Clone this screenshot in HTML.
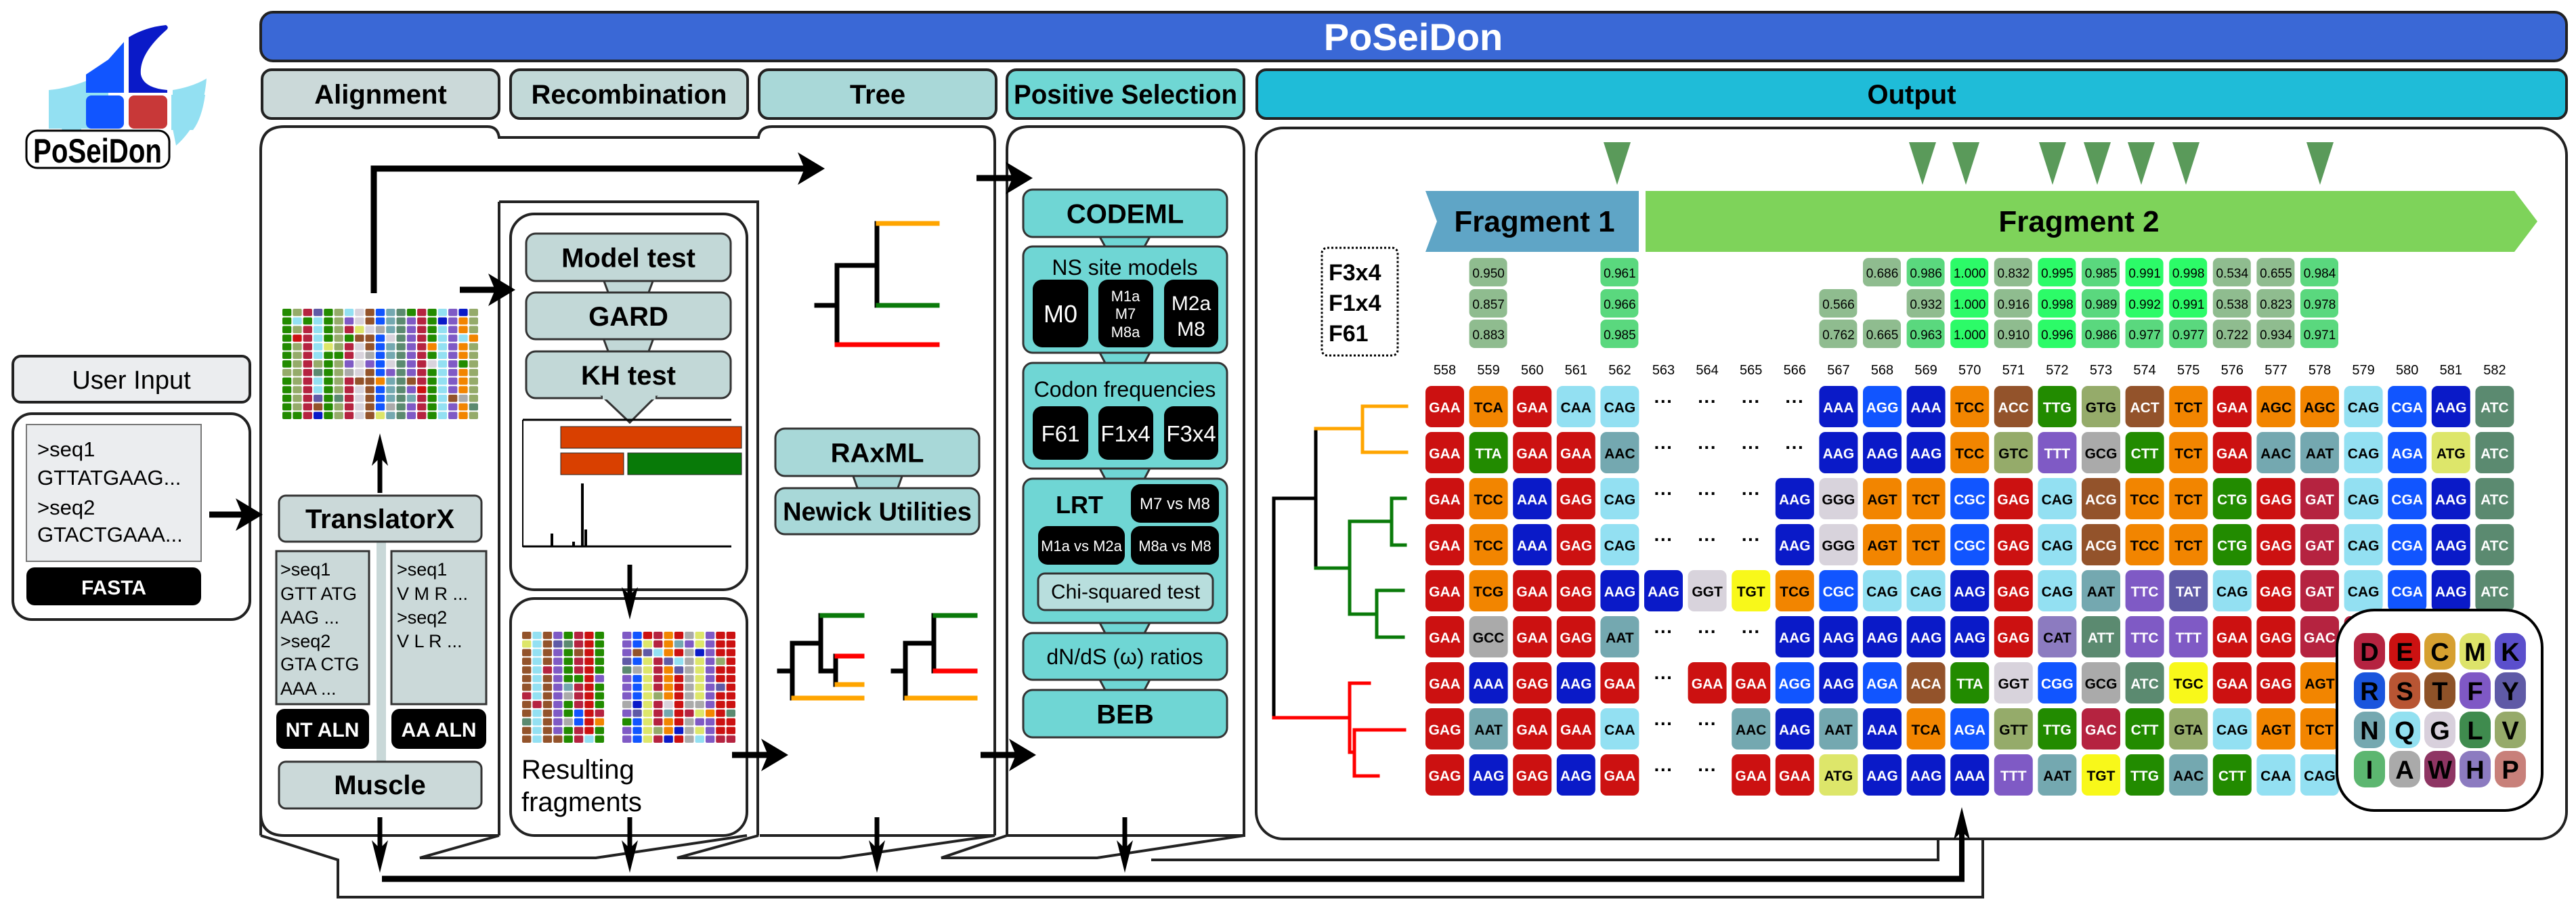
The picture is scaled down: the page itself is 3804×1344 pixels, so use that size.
<!DOCTYPE html>
<html><head><meta charset="utf-8">
<style>
html,body{margin:0;padding:0;background:#fff;}
svg{display:block;font-family:"Liberation Sans",Arial,sans-serif;}
</style></head>
<body>
<svg id="s" xmlns="http://www.w3.org/2000/svg" width="3804" height="1344" viewBox="0 0 3804 1344">
<rect width="3804" height="1344" fill="#fff"/>
<!-- logo -->
<path d="M72 133 Q110 130 160 105 L160 190 L72 190 Z" fill="#93e0f2"/>
<path d="M305 116 Q300 180 260 215 L255 190 L255 133 Q285 128 305 116Z" fill="#93e0f2"/>
<path d="M75 140 L120 140 L120 192 L92 192 Q80 170 75 140Z" fill="#93e0f2"/>
<path d="M253 140 L303 140 Q298 175 285 192 L253 192Z" fill="#93e0f2"/>
<path d="M160 88 L183 62 L183 137 L127 137 L127 110Z" fill="#1155ff"/>
<rect x="127" y="141" width="56" height="49" rx="8" fill="#1155ff"/>
<rect x="190" y="141" width="57" height="49" rx="8" fill="#c83838"/>
<path d="M190 55 Q215 40 245 37 Q250 40 246 44 Q205 80 208 110 Q212 130 247 133 L247 137 L190 137Z" fill="#0a1ac8"/>
<rect x="39" y="193" width="211" height="55" rx="16" fill="#fff" stroke="#000" stroke-width="3"/>
<text x="144" y="240" font-size="50" font-weight="bold" text-anchor="middle" textLength="190" lengthAdjust="spacingAndGlyphs">PoSeiDon</text>

<!-- title -->
<rect x="385" y="18" width="3405" height="72" rx="18" fill="#3a68d6" stroke="#222" stroke-width="4"/>
<text x="2087" y="74" font-size="56" font-weight="bold" fill="#fff" text-anchor="middle">PoSeiDon</text>

<!-- tabs -->
<g stroke="#222" stroke-width="4" font-size="40" font-weight="bold">
<rect x="387" y="103" width="350" height="72" rx="14" fill="#cbd9d9"/>
<rect x="754" y="103" width="350" height="72" rx="14" fill="#c2d9d8"/>
<rect x="1121" y="103" width="350" height="72" rx="14" fill="#a9d8d8"/>
<rect x="1487" y="103" width="350" height="72" rx="14" fill="#6fd7d4"/>
<rect x="1856" y="103" width="1934" height="72" rx="14" fill="#1fbcd8"/>
</g>
<g font-size="40" font-weight="bold" text-anchor="middle">
<text x="562" y="153">Alignment</text>
<text x="929" y="153">Recombination</text>
<text x="1296" y="153">Tree</text>
<text x="1662" y="153" textLength="330" lengthAdjust="spacingAndGlyphs">Positive Selection</text>
<text x="2823" y="153">Output</text>
</g>

<!-- panels -->
<g fill="none" stroke="#222" stroke-width="4">
<path d="M385 1234 L385 222 Q385 187 420 187 L720 187 Q735 187 737 203 L1120 203 Q1122 187 1140 187 L1450 187 Q1469 187 1469 210 L1469 1234"/>
<path d="M385 1200 Q385 1234 420 1234 L720 1234 L735 1234"/>
<path d="M737 298 L1119 298 L1119 1234"/>
<path d="M737 298 L737 1234"/>
<rect x="754" y="316" width="349" height="555" rx="35"/>
<rect x="754" y="884" width="349" height="350" rx="35"/>
<path d="M1122 1234 L1469 1234"/>
<path d="M1487 1234 L1487 222 Q1487 187 1520 187 L1805 187 Q1837 187 1837 222 L1837 1234 L1487 1234"/>
<rect x="1855" y="189" width="1935" height="1050" rx="40"/>
<path d="M385 1234 L499 1270 L499 1325 L2928 1325 L2928 1239"/>
<path d="M737 1234 L620 1267 L880 1267 L1103 1234"/>
<path d="M1120 1234 L1000 1267 L1240 1267 L1469 1234"/>
<path d="M1487 1234 L1390 1267 L1620 1267 L1837 1234"/>
<path d="M1700 1270 L2862 1270 L2862 1239"/>
</g>

<!-- user input -->
<rect x="19" y="526" width="350" height="68" rx="12" fill="#ebedef" stroke="#222" stroke-width="4"/>
<text x="194" y="574" font-size="38" text-anchor="middle">User Input</text>
<rect x="19" y="611" width="350" height="304" rx="28" fill="#fff" stroke="#222" stroke-width="4"/>
<rect x="39" y="627" width="258" height="202" fill="#ebedef" stroke="#777" stroke-width="2"/>
<g font-size="31">
<text x="55" y="674">&gt;seq1</text>
<text x="55" y="716">GTTATGAAG...</text>
<text x="55" y="760">&gt;seq2</text>
<text x="55" y="800">GTACTGAAA...</text>
</g>
<rect x="39" y="838" width="258" height="56" rx="12" fill="#000"/>
<text x="168" y="878" font-size="30" font-weight="bold" fill="#fff" text-anchor="middle">FASTA</text>

<g id="arrows"></g>

<!-- alignment column -->
<g id="aln1"></g>
<rect x="556" y="800" width="14" height="326" fill="#c9d8d8"/>
<rect x="412" y="732" width="299" height="68" rx="10" fill="#cbd9d9" stroke="#333" stroke-width="3"/>
<text x="561" y="780" font-size="40" font-weight="bold" text-anchor="middle">TranslatorX</text>
<rect x="408" y="814" width="137" height="226" fill="#cbd9d9" stroke="#333" stroke-width="3"/>
<rect x="578" y="814" width="140" height="226" fill="#cbd9d9" stroke="#333" stroke-width="3"/>
<g font-size="27">
<text x="414" y="850">&gt;seq1</text><text x="414" y="886">GTT ATG</text><text x="414" y="921">AAG ...</text>
<text x="414" y="956">&gt;seq2</text><text x="414" y="990">GTA CTG</text><text x="414" y="1026">AAA ...</text>
<text x="586" y="850">&gt;seq1</text><text x="586" y="886">V M R ...</text><text x="586" y="921">&gt;seq2</text><text x="586" y="956">V L R ...</text>
</g>
<rect x="408" y="1047" width="137" height="59" rx="12" fill="#000"/>
<rect x="578" y="1047" width="140" height="59" rx="12" fill="#000"/>
<text x="476" y="1088" font-size="30" font-weight="bold" fill="#fff" text-anchor="middle">NT ALN</text>
<text x="648" y="1088" font-size="30" font-weight="bold" fill="#fff" text-anchor="middle">AA ALN</text>
<rect x="412" y="1125" width="299" height="69" rx="10" fill="#cbd9d9" stroke="#333" stroke-width="3"/>
<text x="561" y="1173" font-size="40" font-weight="bold" text-anchor="middle">Muscle</text>

<!-- recombination -->
<g id="recomb"></g>
<g id="frag1"></g><g id="frag2"></g>
<text x="770" y="1150" font-size="40">Resulting</text>
<text x="770" y="1198" font-size="40">fragments</text>

<!-- tree column -->
<g id="trees" fill="none" stroke-width="8"></g>
<g id="possel"></g>

<!-- output -->
<g id="out"></g>
</svg>
<script>
var NS="http://www.w3.org/2000/svg";
function el(p,t,a,txt){var e=document.createElementNS(NS,t);for(var k in a)e.setAttribute(k,a[k]);if(txt!=null)e.textContent=txt;(typeof p=="string"?document.getElementById(p):p).appendChild(e);return e;}
var S=document.getElementById('s');
// arrows
var A='arrows';
function harrow(x1,x2,y,w){el(A,'line',{x1:x1,y1:y,x2:x2-30,y2:y,stroke:'#000','stroke-width':w||9});el(A,'polygon',{points:(x2)+','+y+' '+(x2-40)+','+(y-24)+' '+(x2-30)+','+y+' '+(x2-40)+','+(y+24),fill:'#000'});}
function varrow(x,y1,y2,w){var d=y2>y1?1:-1;el(A,'line',{x1:x,y1:y1,x2:x,y2:y2-30*d,stroke:'#000','stroke-width':w||7});el(A,'polygon',{points:x+','+y2+' '+(x-12)+','+(y2-48*d)+' '+x+','+(y2-36*d)+' '+(x+12)+','+(y2-48*d),fill:'#000'});}
harrow(309,388,760);
varrow(561,728,640);
el(A,'polyline',{points:'552,433 552,249 1190,249',fill:'none',stroke:'#000','stroke-width':9});
harrow(1180,1218,249);
harrow(679,761,428);
harrow(1442,1525,263);
harrow(1081,1164,1115);
harrow(1448,1530,1115);
varrow(930,834,915);
[561,930,1295,1661].forEach(function(x){varrow(x,1207,1289);});
el(A,'line',{x1:564,y1:1298,x2:2901,y2:1298,stroke:'#000','stroke-width':9});
varrow(2897,1302,1192,8);

// mini alignments
var pal=['#cc1111','#b52340','#f28500','#93e0f2','#74a8b0','#0a1ac8','#1155ff','#228b00','#95ab6a','#93532b','#7f5ac5','#aaaaaa','#5b8a70','#dde66a','#d8d3dc','#5f5aa6'];
var seed=7;function rnd(){seed=(seed*9301+49297)%233280;return seed/233280;}
function grid(g,x,y,w,h,nc,nr){var cw=w/nc,ch=h/nr;var cols=[];for(var c=0;c<nc;c++)cols.push(pal[Math.floor(rnd()*pal.length)]);
for(var r=0;r<nr;r++)for(var c=0;c<nc;c++){var col=rnd()<0.75?cols[c]:pal[Math.floor(rnd()*pal.length)];el(g,'rect',{x:x+c*cw+1,y:y+r*ch+1,width:cw-2,height:ch-2,rx:2,fill:col});}}
grid('aln1',416,455,291,165,19,13);
grid('frag1',770,932,123,166,8,13);
grid('frag2',918,932,169,166,11,13);

// recombination boxes
var R='recomb';
function neck(g,x,y1,y2,fill){el(g,'polygon',{points:(x-38)+','+y1+' '+(x+38)+','+y1+' '+(x+28)+','+y2+' '+(x-28)+','+y2,fill:fill,stroke:'#333','stroke-width':3});}
function box(g,x,y,w,h,fill,txt,fs,ty){el(g,'rect',{x:x,y:y,width:w,height:h,rx:14,fill:fill,stroke:'#333','stroke-width':3});if(txt)el(g,'text',{x:x+w/2,y:ty||(y+h/2+fs*0.36),'font-size':fs,'font-weight':'bold','text-anchor':'middle'},txt);}
neck(R,928,410,437,'#c2d8d7');neck(R,928,497,524,'#c2d8d7');
box(R,777,345,302,70,'#c2d8d7','Model test',40);
box(R,777,432,302,69,'#c2d8d7','GARD',40);
box(R,777,519,302,69,'#c2d8d7','KH test',40);
el(R,'polygon',{points:'890,586 968,586 930,624',fill:'#c2d8d7',stroke:'#333','stroke-width':3});
el(R,'rect',{x:890,y:584,width:78,height:6,fill:'#c2d8d7'});
// chart
el(R,'line',{x1:772,y1:620,x2:772,y2:808,stroke:'#000','stroke-width':2});
el(R,'line',{x1:772,y1:807,x2:1080,y2:807,stroke:'#000','stroke-width':3});
el(R,'line',{x1:772,y1:620,x2:1080,y2:620,stroke:'#000','stroke-width':3});
el(R,'rect',{x:828,y:630,width:267,height:32,fill:'#d94000',stroke:'#222','stroke-width':1});
el(R,'rect',{x:828,y:669,width:93,height:32,fill:'#d94000',stroke:'#222','stroke-width':1});
el(R,'rect',{x:927,y:669,width:168,height:32,fill:'#087a08',stroke:'#222','stroke-width':1});
el(R,'rect',{x:858,y:714,width:4,height:93,fill:'#000'});
el(R,'rect',{x:813,y:788,width:4,height:19,fill:'#000'});
el(R,'rect',{x:863,y:782,width:4,height:25,fill:'#000'});
el(R,'rect',{x:845,y:800,width:4,height:7,fill:'#000'});

// trees
var T='trees';
function ln(x1,y1,x2,y2,c){el(T,'line',{x1:x1,y1:y1,x2:x2,y2:y2,stroke:c,'stroke-width':7,'stroke-linecap':'square'});}
ln(1206,451,1236,451,'#000');ln(1236,392,1236,509,'#000');ln(1236,392,1295,392,'#000');ln(1295,330,1295,451,'#000');
ln(1297,330,1384,330,'#ffa500');ln(1297,451,1384,451,'#0a7a0a');ln(1236,509,1384,509,'#ff0000');
// small tree A
ln(1151,991,1170,991,'#000');ln(1170,950,1170,1031,'#000');ln(1170,950,1212,950,'#000');ln(1212,909,1212,991,'#000');ln(1212,991,1234,991,'#000');ln(1234,969,1234,1011,'#000');
ln(1214,909,1273,909,'#0a7a0a');ln(1236,969,1273,969,'#ff0000');ln(1236,1011,1273,1011,'#ffa500');ln(1172,1031,1273,1031,'#ffa500');
// small tree B
ln(1319,991,1337,991,'#000');ln(1337,950,1337,1031,'#000');ln(1337,950,1379,950,'#000');ln(1379,909,1379,991,'#000');
ln(1381,909,1440,909,'#0a7a0a');ln(1381,991,1440,991,'#ff0000');ln(1339,1031,1440,1031,'#ffa500');
var TB=document.getElementById('trees').parentNode;
neck('possel',1296,698,726,'#a8d8d8');
box('possel',1145,633,301,70,'#a8d8d8','RAxML',40);
box('possel',1145,721,301,68,'#a8d8d8','Newick Utilities',38);

// positive selection
var P='possel',PC='#6fd6d4';
[[350,364],[521,536],[692,707],[920,935],[1004,1019]].forEach(function(n){neck(P,1661,n[0]-2,n[1]+2,PC);});
box(P,1511,280,301,70,PC,'CODEML',40);
box(P,1511,364,301,157,PC);
el(P,'text',{x:1661,y:406,'font-size':32,'text-anchor':'middle'},'NS site models');
function bb(x,y,w,h){el(P,'rect',{x:x,y:y,width:w,height:h,rx:14,fill:'#000'});}
function wt(x,y,t,fs){el(P,'text',{x:x,y:y,'font-size':fs,fill:'#fff','text-anchor':'middle'},t);}
bb(1525,413,82,100);bb(1622,413,81,100);bb(1719,413,80,100);
wt(1566,476,'M0',36);wt(1662,445,'M1a',22);wt(1662,471,'M7',22);wt(1662,498,'M8a',22);wt(1759,458,'M2a',30);wt(1759,496,'M8',30);
box(P,1511,536,301,156,PC);
el(P,'text',{x:1661,y:586,'font-size':32,'text-anchor':'middle'},'Codon frequencies');
bb(1525,600,82,79);bb(1622,600,81,79);bb(1719,600,80,79);
wt(1566,652,'F61',33);wt(1662,652,'F1x4',33);wt(1759,652,'F3x4',33);
box(P,1511,707,301,213,PC);
el(P,'text',{x:1594,y:758,'font-size':36,'font-weight':'bold','text-anchor':'middle'},'LRT');
bb(1670,715,130,57);bb(1533,777,128,57);bb(1670,777,130,57);
wt(1735,752,'M7 vs M8',24);wt(1597,814,'M1a vs M2a',22);wt(1735,814,'M8a vs M8',22);
el(P,'rect',{x:1533,y:847,width:258,height:54,rx:10,fill:'#b8dedd',stroke:'#333','stroke-width':3});
el(P,'text',{x:1662,y:884,'font-size':30,'text-anchor':'middle'},'Chi-squared test');
box(P,1511,935,301,69,PC);
el(P,'text',{x:1661,y:981,'font-size':32,'text-anchor':'middle'},'dN/dS (\u03c9) ratios');
box(P,1511,1019,301,70,PC,'BEB',40);

// output
var O='out';
// triangles
[2388,2839,2903,3031,3097,3162,3228,3426].forEach(function(x){el(O,'polygon',{points:(x-20)+',210 '+(x+20)+',210 '+x+',273',fill:'#5a9a5a'});});
el(O,'polygon',{points:'2105,282 2420,282 2420,372 2105,372 2122,327',fill:'#5fa5c6'});
el(O,'polygon',{points:'2430,282 3713,282 3747,327 3713,372 2430,372',fill:'#7ed35a'});
el(O,'text',{x:2266,y:342,'font-size':44,'font-weight':'bold','text-anchor':'middle'},'Fragment 1');
el(O,'text',{x:3070,y:342,'font-size':44,'font-weight':'bold','text-anchor':'middle'},'Fragment 2');
el(O,'rect',{x:1952,y:366,width:112,height:159,rx:8,fill:'none',stroke:'#000','stroke-width':3,'stroke-dasharray':'3,3'});
[['F3x4',414],['F1x4',459],['F61',504]].forEach(function(t){el(O,'text',{x:1962,y:t[1],'font-size':34,'font-weight':'bold'},t[0]);});
var X0=2105,PW=64.6,CW=57;
function cx(i){return X0+PW*i;}
function sc(c,row,v){var f=parseFloat(v);var col=f>=0.99?'#2cfb68':(f>0.95?'#5ad87e':'#8fbc8f');var y=[381,427,472][row];
el(O,'rect',{x:cx(c),y:y,width:CW-1,height:42,rx:8,fill:col});el(O,'text',{x:cx(c)+CW/2,y:y+29,'font-size':19,'text-anchor':'middle'},v);}
sc(1,0,'0.950');sc(1,1,'0.857');sc(1,2,'0.883');sc(4,0,'0.961');sc(4,1,'0.966');sc(4,2,'0.985');
'0.686 0.986 1.000 0.832 0.995 0.985 0.991 0.998 0.534 0.655 0.984'.split(' ').forEach(function(v,i){sc(10+i,0,v);});
sc(9,1,'0.566');'0.932 1.000 0.916 0.998 0.989 0.992 0.991 0.538 0.823 0.978'.split(' ').forEach(function(v,i){sc(11+i,1,v);});
'0.762 0.665 0.963 1.000 0.910 0.996 0.986 0.977 0.977 0.722 0.934 0.971'.split(' ').forEach(function(v,i){sc(9+i,2,v);});
for(var i=0;i<25;i++)el(O,'text',{x:cx(i)+CW/2,y:553,'font-size':20,'text-anchor':'middle'},String(558+i));
var C={};
function def(list,bg,fg){list.split(' ').forEach(function(k){C[k]=[bg,fg];});}
def('GAA GAG','#cc1111','#fff');def('GAT GAC','#b52340','#fff');def('TCA TCC TCT TCG AGC AGT','#f28500','#000');
def('CAA CAG','#93e0f2','#000');def('AAC AAT','#74a8b0','#000');def('AAA AAG','#0a1ac8','#fff');
def('AGG AGA CGC CGA CGG','#1155ff','#fff');def('TTG TTA CTT CTG','#228b00','#fff');def('GTG GTT GTC GTA','#95ab6a','#000');
def('ACC ACT ACG ACA','#93532b','#fff');def('TTT TTC','#7f5ac5','#fff');def('GCG GCC','#aaaaaa','#000');
def('ATC ATT','#5b8a70','#fff');def('ATG','#dde66a','#000');def('GGG GGT','#d8d3dc','#000');def('TGT TGC','#f8f81a','#000');
def('TAT','#5f5aa6','#fff');def('CAT','#8c7bc0','#000');
var rows=[
'GAA TCA GAA CAA CAG . . . . AAA AGG AAA TCC ACC TTG GTG ACT TCT GAA AGC AGC CAG CGA AAG ATC',
'GAA TTA GAA GAA AAC . . . . AAG AAG AAG TCC GTC TTT GCG CTT TCT GAA AAC AAT CAG AGA ATG ATC',
'GAA TCC AAA GAG CAG . . . AAG GGG AGT TCT CGC GAG CAG ACG TCC TCT CTG GAG GAT CAG CGA AAG ATC',
'GAA TCC AAA GAG CAG . . . AAG GGG AGT TCT CGC GAG CAG ACG TCC TCT CTG GAG GAT CAG CGA AAG ATC',
'GAA TCG GAA GAG AAG AAG GGT TGT TCG CGC CAG CAG AAG GAG CAG AAT TTC TAT CAG GAG GAT CAG CGA AAG ATC',
'GAA GCC GAA GAG AAT . . . AAG AAG AAG AAG AAG GAG CAT ATT TTC TTT GAA GAG GAC GAC GAG GAA GAA',
'GAA AAA GAG AAG GAA . GAA GAA AGG AAG AGA ACA TTA GGT CGG GCG ATC TGC GAA GAG AGT AGT AGT AGT AGT',
'GAG AAT GAA GAA CAA . . AAC AAG AAT AAA TCA AGA GTT TTG GAC CTT GTA CAG AGT TCT TCT TCT TCT TCT',
'GAG AAG GAG AAG GAA . . GAA GAA ATG AAG AAG AAA TTT AAT TGT TTG AAC CTT CAA CAG CAG CAG CAG CAG'];
rows.forEach(function(r,ri){var y=570+68*ri;r.split(' ').forEach(function(c,i){
 if(c=='.'){el(O,'text',{x:cx(i)+CW/2,y:y+32,'font-size':28,'font-weight':'bold','text-anchor':'middle'},'\u00b7\u00b7\u00b7');return;}
 var k=C[c]||['#ccc','#000'];el(O,'rect',{x:cx(i),y:y,width:CW,height:61,rx:9,fill:k[0]});
 el(O,'text',{x:cx(i)+CW/2,y:y+39,'font-size':21,'font-weight':'bold',fill:k[1],'text-anchor':'middle'},c);});});
// output tree
function ol(x1,y1,x2,y2,c){el(O,'line',{x1:x1,y1:y1,x2:x2,y2:y2,stroke:c,'stroke-width':5,'stroke-linecap':'square'});}
ol(1881,736,1881,1060,'#000');ol(1881,736,1943,736,'#000');ol(1943,633,1943,839,'#000');
ol(1943,633,2012,633,'#ffa500');ol(2012,600,2012,668,'#ffa500');ol(2012,600,2077,600,'#ffa500');ol(2012,668,2077,668,'#ffa500');
ol(1943,839,1993,839,'#0a7a0a');ol(1993,770,1993,907,'#0a7a0a');ol(1993,770,2055,770,'#0a7a0a');ol(2055,736,2055,805,'#0a7a0a');
ol(2055,736,2075,736,'#0a7a0a');ol(2055,805,2075,805,'#0a7a0a');ol(1993,907,2033,907,'#0a7a0a');ol(2033,872,2033,941,'#0a7a0a');
ol(2033,872,2072,872,'#0a7a0a');ol(2033,941,2072,941,'#0a7a0a');
ol(1881,1060,1993,1060,'#ff0000');ol(1993,1009,1993,1111,'#ff0000');ol(1993,1009,2022,1009,'#ff0000');ol(1993,1111,2000,1111,'#ff0000');
ol(2000,1078,2000,1146,'#ff0000');ol(2000,1078,2074,1078,'#ff0000');ol(2000,1146,2035,1146,'#ff0000');
// legend
el(O,'rect',{x:3451,y:901,width:303,height:296,rx:55,fill:'#fff',stroke:'#000','stroke-width':4});
var aa=[['D','#b52340'],['E','#cc1111'],['C','#d6a030'],['M','#dde36a'],['K','#5b4fcc'],
['R','#1a55dd'],['S','#b85533'],['T','#8e5228'],['F','#7f58c5'],['Y','#5f5aa6'],
['N','#75a8b0'],['Q','#92e0f0'],['G','#d8d0dc'],['L','#3f8b4e'],['V','#96aa6a'],
['I','#5cb670'],['A','#aaaaaa'],['W','#8e3563'],['H','#8c7bc0'],['P','#c8807a']];
aa.forEach(function(a,i){var c=i%5,r=Math.floor(i/5);var x=3476+52*c,y=935+58*r;
el(O,'rect',{x:x,y:y,width:46,height:54,rx:16,fill:a[1]});
el(O,'text',{x:x+23,y:y+41,'font-size':38,'font-weight':'bold','text-anchor':'middle'},a[0]);});
</script>
</body></html>
